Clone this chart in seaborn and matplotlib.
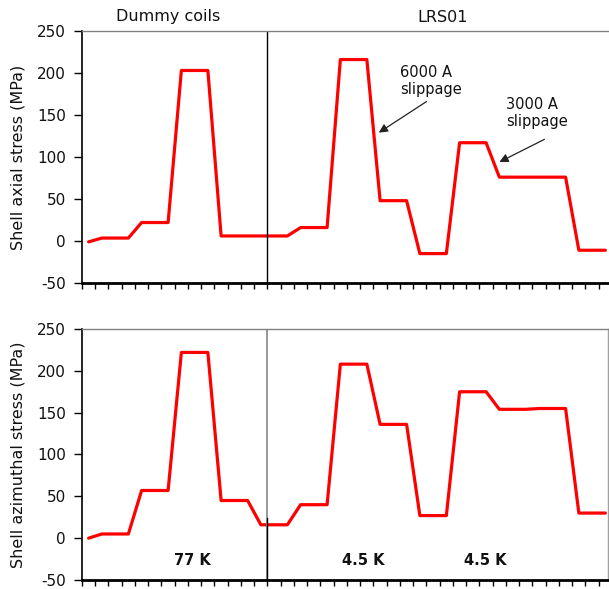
import matplotlib
matplotlib.use("Agg")
import matplotlib.pyplot as plt
import seaborn as sns
import numpy as np
import pandas as pd

sns.set_style("white")
plt.rcParams['font.family'] = ['DejaVu Sans']

# category index (points at category centres)
steps = list(range(40))
axial = [-1, 3.5, 3.5, 3.5, 22, 22, 22, 203, 203, 203,
         6, 6, 6, 6, 6, 6, 16, 16, 16, 216,
         216, 216, 48, 48, 48, -15, -15, -15, 117, 117,
         117, 76, 76, 76, 76, 76, 76, -11, -11, -11]
azimuthal = [0, 5, 5, 5, 57, 57, 57, 222, 222, 222,
             45, 45, 45, 16, 16, 16, 40, 40, 40, 208,
             208, 208, 136, 136, 136, 27, 27, 27, 175, 175,
             175, 154, 154, 154, 155, 155, 155, 30, 30, 30]
yticks = [-50, 0, 50, 100, 150, 200, 250]
section_titles = ["Dummy coils", "LRS01"]
temps = ["77 K", "4.5 K", "4.5 K"]
temp_x = [8.3, 21.2, 30.4]

df = pd.DataFrame({"x": [s + 0.5 for s in steps], "axial": axial, "azimuthal": azimuthal})

W, H = 609, 589
fig = plt.figure(figsize=(W / 100, H / 100), dpi=100)
ax1 = fig.add_axes([82 / W, (H - 283) / H, 526 / W, 252 / H])
ax2 = fig.add_axes([82 / W, (H - 580) / H, 526 / W, 251 / H])

for ax, col in [(ax1, "axial"), (ax2, "azimuthal")]:
    sns.lineplot(data=df, x="x", y=col, ax=ax, color="#ff0000", linewidth=2.3)
    ax.set_xlim(0, 39.7)
    ax.set_ylim(-50, 250)
    ax.set_yticks(yticks)
    ax.set_yticklabels([str(v) for v in yticks], fontsize=11, color="#111111")
    ax.set_xticks(range(0, 40))
    ax.set_xticklabels([])
    ax.set_xlabel("")
    ax.set_ylabel("")
    ax.tick_params(axis="x", direction="out", length=4.5, width=1, color="black", bottom=True)
    ax.tick_params(axis="y", direction="out", length=6, width=1, color="black", left=True, pad=5.5)
    for s in ["left", "bottom"]:
        ax.spines[s].set_color("black")
    ax.spines["left"].set_linewidth(1.2)
    ax.spines["bottom"].set_linewidth(2)
    ax.spines["top"].set_color("#808080")
    ax.spines["top"].set_linewidth(1)

ax1.spines["right"].set_visible(False)
ax2.spines["right"].set_color("#a0a0a0")
ax2.spines["right"].set_linewidth(1)

ax1.axvline(14, color="black", linewidth=1)
ax2.axvline(14, color="#909090", linewidth=1.3)
ax2.plot([14, 14], [-50, 24], color="black", linewidth=1)

fig.text(18 / W, (H - 157) / H, "Shell axial stress (MPa)", rotation=90,
         ha="center", va="center", fontsize=11.5, color="#111111")
fig.text(18 / W, (H - 455) / H, "Shell azimuthal stress (MPa)", rotation=90,
         ha="center", va="center", fontsize=11.5, color="#111111")

fig.text(168 / W, (H - 16) / H, section_titles[0], ha="center", va="center", fontsize=11.5, color="#111111")
fig.text(443 / W, (H - 17) / H, section_titles[1], ha="center", va="center", fontsize=11.5, color="#111111")

ax1.text(24.0, 210, "6000 A\nslippage", fontsize=10.5, ha="left", va="top",
         linespacing=1.2, color="#111111")
ax1.text(32.0, 172, "3000 A\nslippage", fontsize=10.5, ha="left", va="top",
         linespacing=1.2, color="#111111")
arrow_style = dict(arrowstyle="-|>", color="#222222", lw=0.9,
                   shrinkA=0, shrinkB=0, mutation_scale=13)
ax1.annotate("", xy=(22.4, 129), xytext=(26.0, 166), arrowprops=arrow_style)
ax1.annotate("", xy=(31.5, 94), xytext=(34.9, 121), arrowprops=arrow_style)

for t, x in zip(temps, temp_x):
    ax2.text(x, -27, t, ha="center", va="center", fontsize=10.5, fontweight="bold", color="#111111")

fig.savefig("out.png", dpi=100)
